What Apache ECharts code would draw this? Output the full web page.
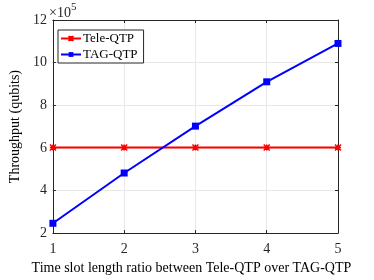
<!DOCTYPE html>
<html><head><meta charset="utf-8">
<script src="https://cdn.jsdelivr.net/npm/echarts@6/dist/echarts.min.js"></script>
<style>html,body{margin:0;padding:0;background:#fff}#c{width:374px;height:280px}</style>
</head><body><div id="c"></div>
<script>
const ratios = [1, 2, 3, 4, 5];
const teleQTP = [6.02e5, 6.02e5, 6.02e5, 6.02e5, 6.02e5];
const tagQTP = [2.46e5, 4.82e5, 7.02e5, 9.1e5, 10.9e5];
const yTicks = [2e5, 4e5, 6e5, 8e5, 10e5, 12e5];
const seriesNames = ['Tele-QTP', 'TAG-QTP'];
const xTitle = 'Time slot length ratio between Tele-QTP over TAG-QTP';
const yTitle = 'Throughput (qubits)';

const font = 'Liberation Serif';
const axisColor = '#262626';
const star = 'path://M0,0L1,1M1,0L0,1M0.5,0L0.5,1M0,0.5L1,0.5';
const chart = echarts.init(document.getElementById('c'), null, {renderer: 'canvas'});
const baseAxis = {
  axisLine: {show: true, lineStyle: {color: axisColor, width: 1}},
  axisTick: {show: true, inside: true, length: 3, lineStyle: {color: axisColor}},
};
chart.setOption({
  animation: false,
  textStyle: {fontFamily: font},
  grid: {left: 48, right: 36, top: 20, bottom: 40, containLabel: false},
  legend: {
    orient: 'vertical', left: 58, top: 30, itemWidth: 20, itemHeight: 6, itemGap: 3,
    padding: [2, 6, 2, 2],
    borderColor: axisColor, borderWidth: 1, backgroundColor: '#fff',
    textStyle: {fontFamily: font, fontSize: 13, color: '#000', padding: [0, 0, 0, -3]},
    data: seriesNames
  },
  graphic: [{
    type: 'text', left: 49, top: 2,
    style: {
      text: '{a|×10}{b|5}', fill: axisColor,
      rich: {a: {fontFamily: font, fontSize: 14, color: axisColor, verticalAlign: 'bottom'}, b: {fontFamily: font, fontSize: 11, color: axisColor, verticalAlign: 'top', padding: [0, 0, 7, 0]}}
    }
  }],
  xAxis: [Object.assign({}, baseAxis, {
    type: 'value', min: 1, max: 5, interval: 1, position: 'bottom',
    axisLabel: {fontFamily: font, fontSize: 14, color: axisColor, margin: 9},
    splitLine: {show: true, lineStyle: {color: '#e8e8e8'}},
    name: xTitle, nameLocation: 'middle', nameGap: 25,
    nameTextStyle: {fontFamily: font, fontSize: 14, color: '#000', padding: [0, 8, 0, 0]}
  }), Object.assign({}, baseAxis, {
    type: 'value', min: 1, max: 5, interval: 1, position: 'top',
    axisLabel: {show: false}, splitLine: {show: false}
  })],
  yAxis: [Object.assign({}, baseAxis, {
    type: 'value', min: 2e5, max: 12e5, interval: 2e5, position: 'left',
    axisLabel: {fontFamily: font, fontSize: 14, color: axisColor, margin: 6, formatter: v => String(v / 1e5)},
    splitLine: {show: true, lineStyle: {color: '#e8e8e8'}},
    name: yTitle, nameLocation: 'middle', nameGap: 21, nameRotate: 90,
    nameTextStyle: {fontFamily: font, fontSize: 14, color: '#000'}
  }), Object.assign({}, baseAxis, {
    type: 'value', min: 2e5, max: 12e5, interval: 2e5, position: 'right',
    axisLabel: {show: false}, splitLine: {show: false}
  })],
  series: [{
    name: seriesNames[0], type: 'line', data: ratios.map((r, i) => [r, teleQTP[i]]),
    color: '#ff0000', lineStyle: {width: 2, color: '#ff0000'},
    symbol: star, symbolSize: 6, showAllSymbol: true,
    itemStyle: {color: '#ff0000', borderColor: '#ff0000', borderWidth: 1.5}
  }, {
    name: seriesNames[1], type: 'line', data: ratios.map((r, i) => [r, tagQTP[i]]),
    color: '#0000ff', lineStyle: {width: 2, color: '#0000ff'},
    symbol: 'rect', symbolSize: 7, showAllSymbol: true,
    itemStyle: {color: '#0000ff', borderWidth: 0}
  }]
});
</script></body></html>
